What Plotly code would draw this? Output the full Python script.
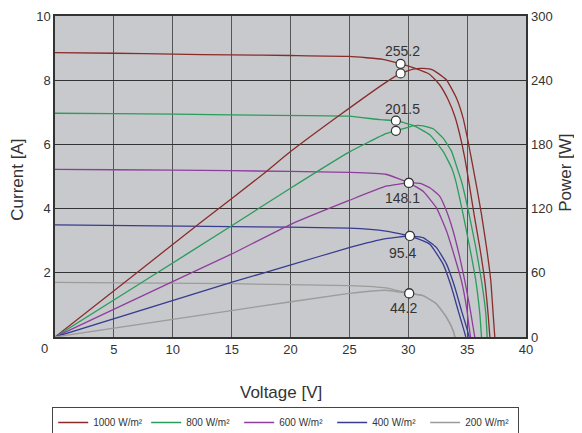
import plotly.graph_objects as go

# ---- data ----
series_names = ["1000 W/m²", "800 W/m²", "600 W/m²", "400 W/m²", "200 W/m²"]
series_colors = ["#8a2c2c", "#2a9d5c", "#8e3d9c", "#383c8f", "#9c9c9c"]

iv_v_1000 = [0, 5, 10, 15, 20, 25, 27.84, 29.35, 30.42, 31.83, 32.68, 33.39, 33.96, 34.38, 34.80, 35.14, 35.59, 36.08, 36.50, 36.78, 36.93]
iv_i_1000 = [8.86, 8.84, 8.81, 8.79, 8.77, 8.74, 8.65, 8.51, 8.39, 8.18, 7.85, 7.39, 6.87, 6.30, 5.58, 4.85, 3.82, 2.78, 1.75, 0.72, 0]
pv_v_1000 = [0, 6.09, 12.45, 17.63, 20.03, 24.13, 28.10, 29.35, 30.42, 31.26, 32.11, 33.25, 34.10, 34.66, 35.08, 35.51, 35.80, 36.22, 36.65, 37.01, 37.21, 37.35]
pv_p_1000 = [0, 52.6, 107.7, 151.8, 173.5, 207.0, 238.0, 246.3, 250.4, 251.0, 249.5, 240.2, 223.1, 204.5, 182.8, 158.0, 140.9, 114.6, 83.5, 52.6, 21.6, 0]

iv_v_800 = [0, 5, 15, 24.98, 27.59, 28.95, 30.42, 31.83, 32.96, 33.68, 34.04, 34.66, 35.23, 35.74, 36.08, 36.22]
iv_i_800 = [6.97, 6.96, 6.92, 6.88, 6.77, 6.74, 6.59, 6.30, 5.78, 5.27, 4.85, 3.82, 2.78, 1.75, 0.72, 0]
pv_v_800 = [0, 7.50, 14.97, 20.03, 24.98, 28.10, 28.95, 30.42, 31.26, 32.11, 32.96, 33.68, 34.24, 34.52, 35.17, 35.74, 36.22, 36.59, 36.70]
pv_p_800 = [0, 51.9, 103.7, 139.3, 172.8, 190.0, 192.7, 197.4, 197.4, 194.6, 185.9, 173.5, 154.9, 145.6, 114.6, 83.5, 52.6, 21.6, 0]

iv_v_600 = [0, 5, 15, 24.98, 28.10, 30.05, 31.26, 32.40, 33.25, 33.96, 34.52, 34.95, 35.17, 35.29]
iv_i_600 = [5.22, 5.21, 5.18, 5.13, 5.07, 4.80, 4.54, 4.02, 3.30, 2.47, 1.75, 0.92, 0.30, 0]
pv_v_600 = [0, 9.85, 14.97, 20.03, 24.98, 28.10, 30.05, 31.00, 31.83, 32.68, 33.25, 33.81, 34.38, 34.80, 35.23, 35.51, 35.65]
pv_p_600 = [0, 51.0, 77.4, 105.3, 127.6, 140.9, 144.0, 143.5, 139.5, 131.5, 117.7, 99.1, 74.2, 52.6, 27.7, 9.1, 0]

iv_v_400 = [0, 15, 24.98, 28.10, 30.14, 31.83, 32.96, 33.68, 34.24, 34.66, 34.89]
iv_i_400 = [3.49, 3.44, 3.39, 3.30, 3.15, 2.89, 2.27, 1.54, 0.82, 0.30, 0]
pv_v_400 = [0, 14.97, 20.03, 24.98, 28.10, 30.14, 31.26, 32.40, 33.25, 33.96, 34.52, 34.95, 35.17]
pv_p_400 = [0, 51.0, 67.4, 83.5, 91.9, 94.4, 92.8, 83.5, 68.1, 46.3, 24.7, 9.1, 0]

iv_v_200 = [0, 15, 24.98, 28.10, 30.08, 31.26, 32.40, 33.25, 33.81, 33.96]
iv_i_200 = [1.70, 1.66, 1.60, 1.53, 1.36, 1.29, 1.03, 0.61, 0.20, 0]
pv_v_200 = [0, 14.97, 24.98, 28.10, 30.08, 31.26, 32.40, 33.25, 33.81, 33.96]
pv_p_200 = [0, 24.7, 40.7, 43.7, 40.7, 38.6, 30.9, 18.4, 6.0, 0]

mpp_v = [29.35, 28.95, 30.05, 30.14, 30.08]
mpp_i = [8.51, 6.74, 4.80, 3.15, 1.36]
mpp_p = [246.3, 192.7, 144.0, 94.4, 40.7]
mpp_labels = ["255.2", "201.5", "148.1", "95.4", "44.2"]

x_ticks = [5, 10, 15, 20, 25, 30, 35, 40]
i_ticks = [2, 4, 6, 8, 10]
p_ticks = [0, 60, 120, 180, 240, 300]

# ---- styling ----
label_shift = [(2, 13), (7, 12), (-6, -15), (-7, -17), (-6, -15)]
FONT = "Liberation Sans, Arial, sans-serif"
TXT = "#333333"

iv_v = [iv_v_1000, iv_v_800, iv_v_600, iv_v_400, iv_v_200]
iv_i = [iv_i_1000, iv_i_800, iv_i_600, iv_i_400, iv_i_200]
pv_v = [pv_v_1000, pv_v_800, pv_v_600, pv_v_400, pv_v_200]
pv_p = [pv_p_1000, pv_p_800, pv_p_600, pv_p_400, pv_p_200]

fig = go.Figure()
for k in range(5):
    fig.add_trace(go.Scatter(
        x=iv_v[k], y=iv_i[k], mode="lines", name=series_names[k],
        line=dict(color=series_colors[k], width=1.3, shape="spline", smoothing=0.4),
        yaxis="y", showlegend=True))
    fig.add_trace(go.Scatter(
        x=pv_v[k], y=pv_p[k], mode="lines", name=series_names[k],
        line=dict(color=series_colors[k], width=1.3, shape="spline", smoothing=0.4),
        yaxis="y2", showlegend=False))

fig.add_trace(go.Scatter(
    x=mpp_v, y=mpp_i, mode="markers", yaxis="y", showlegend=False,
    marker=dict(size=9, color="white", line=dict(color="#333333", width=1.2))))
fig.add_trace(go.Scatter(
    x=mpp_v, y=mpp_p, mode="markers", yaxis="y2", showlegend=False,
    marker=dict(size=9, color="white", line=dict(color="#333333", width=1.2))))

annotations = []
for k in range(5):
    annotations.append(dict(
        x=mpp_v[k], y=mpp_i[k], xref="x", yref="y", text=mpp_labels[k],
        showarrow=False, xshift=label_shift[k][0], yshift=label_shift[k][1],
        xanchor="center", yanchor="middle",
        font=dict(family=FONT, size=14, color=TXT)))

annotations += [
    dict(x=-0.023, y=-0.036, xref="paper", yref="paper", text="0", showarrow=False,
         xanchor="center", yanchor="middle", font=dict(family=FONT, size=13, color=TXT)),
    dict(x=0.48, y=-0.173, xref="paper", yref="paper", text="Voltage [V]", showarrow=False,
         xanchor="center", yanchor="middle", font=dict(family=FONT, size=17, color=TXT)),
    dict(x=-0.0786, y=0.49, xref="paper", yref="paper", text="Current [A]", showarrow=False,
         xanchor="center", yanchor="middle", textangle=-90,
         font=dict(family=FONT, size=17, color=TXT)),
    dict(x=1.084, y=0.51, xref="paper", yref="paper", text="Power [W]", showarrow=False,
         xanchor="center", yanchor="middle", textangle=-90,
         font=dict(family=FONT, size=17, color=TXT)),
]

# page body adds an 8px offset; figure is sized so the plot lands where the reference has it
fig.update_layout(
    width=574, height=425,
    margin=dict(l=47, r=56, t=8, b=96, autoexpand=False),
    paper_bgcolor="white",
    plot_bgcolor="#c8c9cc",
    font=dict(family=FONT, size=13, color=TXT),
    xaxis=dict(range=[0, 40], tickvals=x_ticks, showgrid=True, gridcolor="#555555",
               gridwidth=1.2, zeroline=False, showline=True, linecolor="#333333",
               linewidth=1.5, mirror=True, ticks="", tickfont=dict(size=13, color=TXT)),
    yaxis=dict(range=[0, 10], tickvals=i_ticks, showgrid=True, gridcolor="#333333",
               gridwidth=1.2, zeroline=False, showline=True, linecolor="#333333",
               linewidth=1.5, mirror=True, ticks="", tickfont=dict(size=13, color=TXT)),
    yaxis2=dict(range=[0, 300], tickvals=p_ticks, overlaying="y", side="right",
                showgrid=False, zeroline=False, ticks="", ticklabelstandoff=4,
                tickfont=dict(size=13, color=TXT)),
    legend=dict(orientation="h", x=-0.006, y=-0.218, xanchor="left", yanchor="top",
                bgcolor="white", bordercolor="#444444", borderwidth=1,
                font=dict(family=FONT, size=10, color=TXT), entrywidth=48,
                entrywidthmode="pixels"),
    annotations=annotations,
)

fig.write_html("out.html")
